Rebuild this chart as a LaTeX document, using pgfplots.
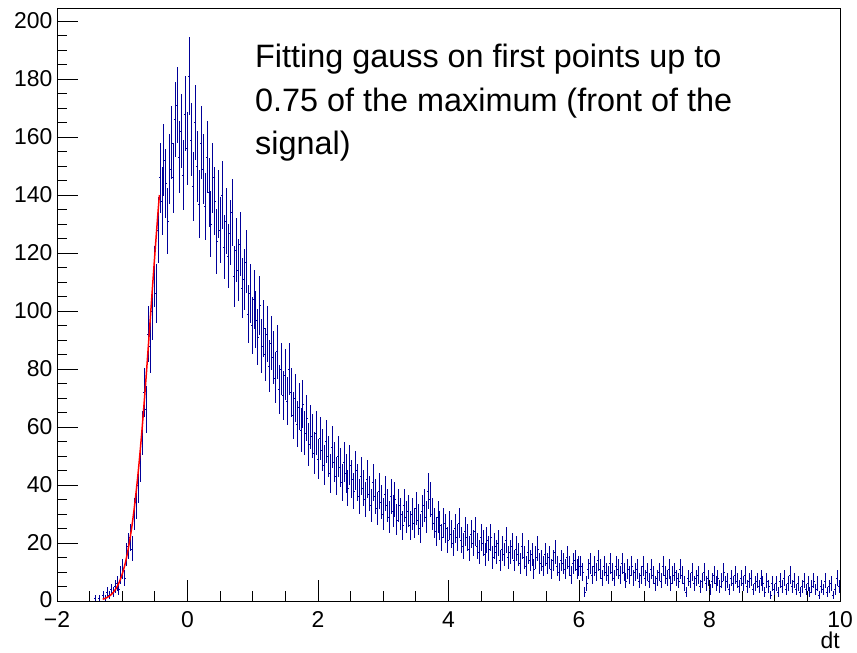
\documentclass[border=0pt]{standalone}
\usepackage{fontspec}
\setmainfont{Liberation Sans}
\usepackage{pgfplots}
\pgfplotsset{compat=1.18}
\usepackage{pgfplotstable}
\definecolor{rootblue}{rgb}{0,0,0.6}

\pgfplotstableread{
x y
-1.415 1
-1.355 1
-1.295 2
-1.265 1
-1.235 3
-1.205 2
-1.175 4
-1.145 3
-1.115 5
-1.085 6
-1.055 4
-1.025 9
-0.995 11
-0.965 8
-0.935 16
-0.905 19
-0.875 22
-0.845 18
-0.815 30
-0.785 34
-0.755 40
-0.725 48
-0.695 58
-0.665 72
-0.635 66
-0.605 92
-0.575 88
-0.545 100
-0.515 112
-0.485 106
-0.455 128
-0.425 146
-0.395 138
-0.365 152
-0.335 144
-0.305 131
-0.275 149
-0.245 158
-0.215 146
-0.185 166
-0.155 171
-0.125 153
-0.095 162
-0.065 147
-0.035 168
-0.005 156
0.025 181
0.055 159
0.085 143
0.115 165
0.145 150
0.175 137
0.205 158
0.235 149
0.265 136
0.295 153
0.325 141
0.355 130
0.385 146
0.415 138
0.445 124
0.475 137
0.505 128
0.535 140
0.565 122
0.595 131
0.625 119
0.655 127
0.685 134
0.715 112
0.745 121
0.775 114
0.805 123
0.835 108
0.865 111
0.895 117
0.925 99
0.955 106
0.985 95
1.015 104
1.045 97
1.075 91
1.105 102
1.135 88
1.165 94
1.195 85
1.225 92
1.255 81
1.285 89
1.315 84
1.345 77
1.375 86
1.405 73
1.435 80
1.465 71
1.495 78
1.525 69
1.555 80
1.585 72
1.615 64
1.645 70
1.675 61
1.705 67
1.735 59
1.765 68
1.795 58
1.825 63
1.855 54
1.885 60
1.915 57
1.945 51
1.975 58
2.005 49
2.035 56
2.065 52
2.095 47
2.125 55
2.155 50
2.185 44
2.215 53
2.245 48
2.275 43
2.305 50
2.335 46
2.365 41
2.395 48
2.425 44
2.455 39
2.485 47
2.515 42
2.545 38
2.575 45
2.605 41
2.635 36
2.665 43
2.695 39
2.725 35
2.755 42
2.785 37
2.815 33
2.845 41
2.875 36
2.905 32
2.935 38
2.965 34
2.995 30
3.025 37
3.055 33
3.085 29
3.115 36
3.145 31
3.175 35
3.205 28
3.235 33
3.265 30
3.295 26
3.325 33
3.355 29
3.385 31
3.415 26
3.445 30
3.475 27
3.505 32
3.535 28
3.565 25
3.595 31
3.625 33
3.655 29
3.685 38
3.715 35
3.745 30
3.775 27
3.805 24
3.835 29
3.865 26
3.895 22
3.925 27
3.955 25
3.985 21
4.015 26
4.045 23
4.075 20
4.105 25
4.135 22
4.165 27
4.195 21
4.225 19
4.255 24
4.285 22
4.315 18
4.345 23
4.375 20
4.405 24
4.435 19
4.465 17
4.495 22
4.525 20
4.555 16
4.585 21
4.615 18
4.645 22
4.675 15
4.705 19
4.735 17
4.765 20
4.795 14
4.825 18
4.855 16
4.885 21
4.915 15
4.945 17
4.975 19
5.005 14
5.035 18
5.065 16
5.095 13
5.125 19
5.155 15
5.185 12
5.215 17
5.245 14
5.275 16
5.305 11
5.335 15
5.365 18
5.395 13
5.425 14
5.455 12
5.485 16
5.515 13
5.545 15
5.575 11
5.605 14
5.635 17
5.665 12
5.695 10
5.725 14
5.755 13
5.785 11
5.815 15
5.845 12
5.875 9
5.905 13
5.935 14
5.965 11
5.995 12
6.025 12
6.055 10
6.085 3
6.115 6
6.145 11
6.175 13
6.205 9
6.235 12
6.265 10
6.295 14
6.325 11
6.355 8
6.385 12
6.415 10
6.445 9
6.475 13
6.505 10
6.535 8
6.565 12
6.595 11
6.625 9
6.655 13
6.685 10
6.715 7
6.745 11
6.775 9
6.805 12
6.835 8
6.865 10
6.895 11
6.925 7
6.955 9
6.985 12
7.015 8
7.045 10
7.075 7
7.105 11
7.135 9
7.165 6
7.195 8
7.225 10
7.255 7
7.285 12
7.315 9
7.345 8
7.375 11
7.405 6
7.435 9
7.465 10
7.495 8
7.525 7
7.555 11
7.585 9
7.615 6
7.645 3
7.675 8
7.705 7
7.735 10
7.765 6
7.795 8
7.825 9
7.855 5
7.885 7
7.915 10
7.945 6
7.975 8
8.005 4
8.035 7
8.065 9
8.095 6
8.125 8
8.155 5
8.185 7
8.215 10
8.245 6
8.275 7
8.305 4
8.335 8
8.365 6
8.395 9
8.425 7
8.455 5
8.485 8
8.515 6
8.545 9
8.575 5
8.605 7
8.635 8
8.665 4
8.695 6
8.725 7
8.755 5
8.785 8
8.815 6
8.845 3
8.875 7
8.905 5
8.935 2
8.965 6
8.995 4
9.025 6
9.055 3
9.085 7
9.115 5
9.145 8
9.175 4
9.205 6
9.235 9
9.265 5
9.295 7
9.325 4
9.355 6
9.385 3
9.415 5
9.445 7
9.475 4
9.505 6
9.535 3
9.565 5
9.595 7
9.625 4
9.655 6
9.685 2
9.715 5
9.745 4
9.775 7
9.805 3
9.835 5
9.865 6
9.895 2
9.925 4
9.955 8
9.985 5
}\histdata

\begin{document}
\begin{tikzpicture}
\useasboundingbox (0,0) rectangle (857bp,653bp);
\begin{axis}[
  at={(57bp,52bp)}, anchor=south west,
  scale only axis, width=783bp, height=593bp,
  xmin=-2, xmax=10, ymin=0, ymax=204.5,
  xtick={-2,0,2,4,6,8,10}, xticklabels={−2,0,2,4,6,8,10},
  minor x tick num=3,
  ytick={0,20,...,200},
  yticklabels={\raisebox{3bp}{0},20,40,60,80,100,120,140,160,180,200},
  minor y tick num=3,
  tick pos=left, tick align=inside,
  major tick length=21bp, minor tick length=10bp,
  axis line style={black, line width=0.8bp},
  every tick/.style={black, line width=0.8bp},
  tick label style={text=black, font=\fontsize{23}{26}\selectfont},
  xticklabel style={yshift=-7bp},
  yticklabel style={xshift=-1bp},
]
\addplot[color=rootblue, line width=1bp, only marks, mark=*, mark size=0pt, forget plot,
  error bars/.cd, x dir=both, x fixed=0.015, y dir=both, y explicit,
  error mark=none]
  table[x=x, y=y, y error expr={sqrt(\thisrow{y})}] {\histdata};
\addplot[red, line width=1.5bp, smooth] coordinates {
(-1.30,0.60) (-1.25,1.01) (-1.20,1.65) (-1.15,2.64) (-1.10,4.12)
(-1.05,6.27) (-1.00,9.30) (-0.95,13.4) (-0.90,19.0) (-0.85,26.1)
(-0.80,35.0) (-0.75,45.7) (-0.70,58.3) (-0.65,72.5) (-0.60,87.9)
(-0.55,103.9) (-0.50,119.7) (-0.45,134.6) (-0.43,140.0)
};
\end{axis}
\node[anchor=base west, font=\fontsize{32.5}{39}\selectfont, inner sep=0] at (255bp,585bp) {Fitting gauss on first points up to};
\node[anchor=base west, font=\fontsize{32.5}{39}\selectfont, inner sep=0] at (255bp,541bp) {0.75 of the maximum (front of the};
\node[anchor=base west, font=\fontsize{32.5}{39}\selectfont, inner sep=0] at (255bp,498bp) {signal)};
\node[anchor=base east, font=\fontsize{23}{26}\selectfont, inner sep=0] at (840bp,5bp) {dt};
\end{tikzpicture}
\end{document}
